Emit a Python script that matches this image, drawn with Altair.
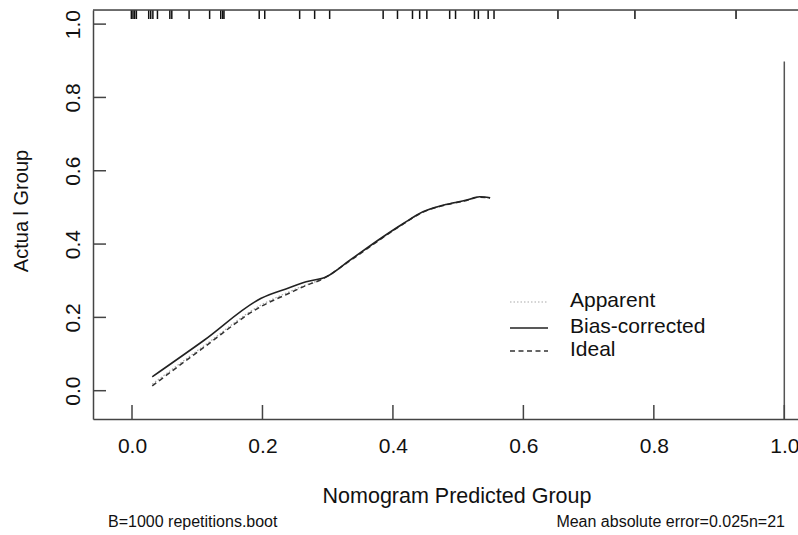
import altair as alt
import pandas as pd

# ---- data ----
bias_x = [0.031, 0.110, 0.198, 0.240, 0.267, 0.298, 0.334, 0.385, 0.416, 0.446, 0.477, 0.513, 0.533, 0.549]
bias_y = [0.038, 0.137, 0.252, 0.280, 0.297, 0.311, 0.356, 0.420, 0.456, 0.488, 0.506, 0.520, 0.529, 0.526]

ideal_x = [0.031, 0.110, 0.198, 0.240, 0.267, 0.290, 0.334, 0.385, 0.416, 0.446, 0.477, 0.513, 0.533, 0.549]
ideal_y = [0.013, 0.118, 0.230, 0.265, 0.287, 0.303, 0.354, 0.418, 0.455, 0.487, 0.505, 0.519, 0.528, 0.526]

app_x = [0.031, 0.110, 0.198, 0.240, 0.267, 0.292, 0.334, 0.385, 0.416, 0.446, 0.477, 0.513, 0.533, 0.549]
app_y = [0.018, 0.122, 0.234, 0.269, 0.289, 0.305, 0.355, 0.419, 0.455, 0.487, 0.505, 0.519, 0.528, 0.526]

rug_x = [-0.001, 0.0015, 0.004, 0.0067, 0.0256, 0.0287, 0.032, 0.039, 0.058, 0.061,
         0.0875, 0.119, 0.136, 0.139, 0.141, 0.195, 0.2035, 0.257, 0.280, 0.303,
         0.385, 0.407, 0.430, 0.441, 0.452, 0.487, 0.496, 0.525, 0.531, 0.546,
         0.555, 0.653, 0.771, 0.926]

spike_x = [1.0]
spike_top = [0.898]

x_ticks = [0.0, 0.2, 0.4, 0.6, 0.8, 1.0]
y_ticks = [0.0, 0.2, 0.4, 0.6, 0.8, 1.0]

legend_labels = ["Apparent", "Bias-corrected", "Ideal"]
x_title = "Nomogram Predicted Group"
y_title = "Actua l Group"
note_left = "B=1000 repetitions.boot"
note_right = "Mean absolute error=0.025n=21"

# ---- layout ----
W, H = 705, 409
FONT = "Liberation Sans"
INK = "#111111"
FRAME = "#444444"

xs = alt.Scale(domain=[-0.0598, 1.0210], nice=False, zero=False)
ys = alt.Scale(domain=[-0.0772, 1.0385], nice=False, zero=False)

x_axis = alt.Axis(values=x_ticks, format=".1f", ticks=False, grid=False, domain=True,
                  domainColor=FRAME, domainWidth=1.5, labelFontSize=21, labelFont=FONT,
                  labelColor=INK, labelPadding=16, title=None)
y_axis = alt.Axis(values=y_ticks, format=".1f", ticks=False, grid=False, domain=True,
                  domainColor=FRAME, domainWidth=1.5, labelFontSize=21, labelFont=FONT,
                  labelColor=INK, labelPadding=10, labelAngle=270, labelAlign="center",
                  labelBaseline="bottom", title=None)

def series_df(xv, yv):
    return pd.DataFrame({"x": xv, "y": yv})

base_enc = dict(x=alt.X("x:Q", scale=xs, axis=x_axis), y=alt.Y("y:Q", scale=ys, axis=y_axis))

app = alt.Chart(series_df(app_x, app_y)).mark_line(
    color="#aaaaaa", strokeWidth=1.2, strokeDash=[1.5, 2], interpolate="monotone").encode(**base_enc)
ideal = alt.Chart(series_df(ideal_x, ideal_y)).mark_line(
    color="#333333", strokeWidth=1.5, strokeDash=[5, 3.5], interpolate="monotone").encode(
    x=alt.X("x:Q", scale=xs), y=alt.Y("y:Q", scale=ys))
bias = alt.Chart(series_df(bias_x, bias_y)).mark_line(
    color="#222222", strokeWidth=1.6, interpolate="monotone").encode(
    x=alt.X("x:Q", scale=xs), y=alt.Y("y:Q", scale=ys))

rug = alt.Chart(pd.DataFrame({"x": rug_x})).mark_rule(color="#111111", strokeWidth=1.5).encode(
    x=alt.X("x:Q", scale=xs), y=alt.value(0), y2=alt.value(9))

spike = alt.Chart(pd.DataFrame({"x": spike_x, "y": spike_top})).mark_rule(
    color="#555555", strokeWidth=1.5).encode(
    x=alt.X("x:Q", scale=xs), y=alt.Y("y:Q", scale=ys), y2=alt.value(H))

xt = alt.Chart(pd.DataFrame({"x": x_ticks})).mark_rule(color=FRAME, strokeWidth=1.5).encode(
    x=alt.X("x:Q", scale=xs), y=alt.value(H), y2=alt.value(H - 14))
yt = alt.Chart(pd.DataFrame({"y": y_ticks})).mark_rule(color=FRAME, strokeWidth=1.5).encode(
    y=alt.Y("y:Q", scale=ys), x=alt.value(0), x2=alt.value(13))

top_border = alt.Chart(pd.DataFrame({"k": [0]})).mark_rule(color=FRAME, strokeWidth=1.5).encode(
    x=alt.value(0), x2=alt.value(W + 10), y=alt.value(0))

def text_layer(t, x, y, size, align="center", angle=0):
    kw = dict(fontSize=size, font=FONT, color=INK, align=align, baseline="middle")
    if angle:
        kw["angle"] = angle
    return alt.Chart(pd.DataFrame({"t": [t]})).mark_text(**kw).encode(
        text="t:N", x=alt.value(x), y=alt.value(y))

titles = [
    text_layer(x_title, 364, 487, 21.5),
    text_layer(y_title, -71, 201, 20, angle=270),
    text_layer(note_left, 15, 512, 16, align="left"),
    text_layer(note_right, 692, 512, 16, align="right"),
]

# legend (manual, R-style)
leg_rows = [292, 318, 341]
leg_styles = [dict(color="#aaaaaa", strokeWidth=1.2, strokeDash=[1.5, 2]),
              dict(color="#222222", strokeWidth=1.6),
              dict(color="#333333", strokeWidth=1.5, strokeDash=[5, 3.5])]
legend_layers = []
for lab, ry, st in zip(legend_labels, leg_rows, leg_styles):
    legend_layers.append(
        alt.Chart(pd.DataFrame({"t": [lab]})).mark_rule(**st).encode(
            x=alt.value(417), x2=alt.value(455), y=alt.value(ry)))
    legend_layers.append(text_layer(lab, 477, ry - 1, 21, align="left"))

chart = alt.layer(
    app, ideal, bias, rug, spike, xt, yt, top_border, *titles, *legend_layers
).properties(
    width=W, height=H,
    autosize=alt.AutoSizeParams(type="none"),
    padding={"left": 93, "top": 10, "right": 0, "bottom": 116},
).configure_view(stroke=None).configure(background="white")

chart.save("out.html", embed_options={"renderer": "svg", "actions": False})
